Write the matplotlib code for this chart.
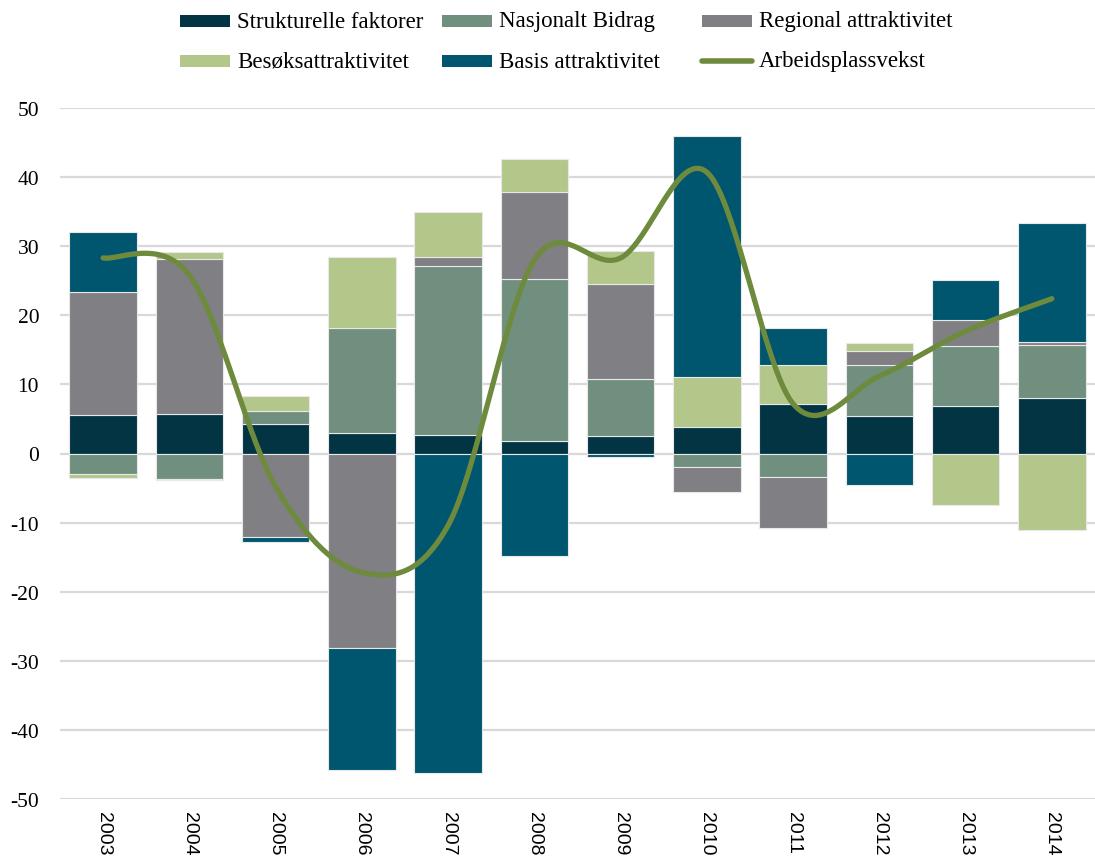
import matplotlib
matplotlib.use('Agg')
import matplotlib.pyplot as plt
import numpy as np
from matplotlib.patches import Rectangle
from matplotlib.lines import Line2D

plt.rcParams['font.family'] = 'Liberation Serif'
plt.rcParams['axes.unicode_minus'] = False

# ── data ──
years = ['2003', '2004', '2005', '2006', '2007', '2008',
         '2009', '2010', '2011', '2012', '2013', '2014']
strukturelle = [5.6, 5.7, 4.2, 2.9, 2.7, 1.8, 2.6, 3.9, 7.1, 5.4, 6.9, 8.0]
nasjonalt = [-3.0, -3.7, 1.9, 15.2, 24.4, 23.5, 8.2, -2.0, -3.4, 7.4, 8.7, 7.7]
regional = [17.7, 22.4, -12.1, -28.2, 1.4, 12.5, 13.7, -3.5, -7.4, 2.1, 3.7, 0.4]
besok = [-0.5, 1.1, 2.2, 10.4, 6.5, 4.8, 4.8, 7.1, 5.7, 1.1, -7.4, -11.0]
basis = [8.7, -0.2, -0.7, -17.6, -46.2, -14.9, -0.5, 34.9, 5.4, -4.6, 5.8, 17.3]
vekst = [28.3, 25.8, -4.8, -17.2, -10.4, 28.0, 28.3, 40.7, 7.2, 11.2, 17.7, 22.4]

series = [
    ('Strukturelle faktorer', strukturelle, '#023444'),
    ('Nasjonalt Bidrag', nasjonalt, '#718F7F'),
    ('Regional attraktivitet', regional, '#807F84'),
    ('Besøksattraktivitet', besok, '#B3C78B'),
    ('Basis attraktivitet', basis, '#00566F'),
]
LINE_COLOR = '#6E8B3D'
GRID = '#D9D9D9'
W, H = 1095, 862

fig = plt.figure(figsize=(W / 100, H / 100), dpi=100)
ax = fig.add_axes([60 / W, 62 / H, 1035 / W, 691 / H])

x = np.arange(len(years))
pos_bottom = np.zeros(len(years))
neg_bottom = np.zeros(len(years))
for label, vals, color in series:
    v = np.array(vals)
    bottom = np.where(v >= 0, pos_bottom, neg_bottom)
    ax.bar(x, v, bottom=bottom, width=0.78, color=color,
           edgecolor='#E8E8E8', linewidth=0.8, zorder=2)
    pos_bottom += np.where(v >= 0, v, 0)
    neg_bottom += np.where(v < 0, v, 0)

# smoothed line (Excel style catmull-rom bezier)
y = np.array(vekst)
xs_all, ys_all = [], []
n = len(y)
for i in range(n - 1):
    p0 = np.array([x[max(i - 1, 0)], y[max(i - 1, 0)]], dtype=float)
    p1 = np.array([x[i], y[i]], dtype=float)
    p2 = np.array([x[i + 1], y[i + 1]], dtype=float)
    p3 = np.array([x[min(i + 2, n - 1)], y[min(i + 2, n - 1)]], dtype=float)
    c1 = p1 + (p2 - p0) / 6
    c2 = p2 - (p3 - p1) / 6
    t = np.linspace(0, 1, 40)[:, None]
    pts = ((1 - t) ** 3) * p1 + 3 * ((1 - t) ** 2) * t * c1 + 3 * (1 - t) * t ** 2 * c2 + t ** 3 * p2
    xs_all.append(pts[:, 0])
    ys_all.append(pts[:, 1])
ax.plot(np.concatenate(xs_all), np.concatenate(ys_all), color=LINE_COLOR,
        lw=3.8, solid_capstyle='round', zorder=3)

ax.set_xlim(-0.5, len(years) - 0.5)
ax.set_ylim(-50, 50)
ax.set_yticks(np.arange(-50, 51, 10))
ax.yaxis.grid(True, color=GRID, lw=1.6, zorder=0)
ax.set_axisbelow(True)
for s in ax.spines.values():
    s.set_visible(False)
ax.tick_params(axis='both', length=0, labelsize=15.5)
ax.tick_params(axis='y', pad=15)
ax.set_xticks(x)
ax.set_xticklabels(years, rotation=270, fontsize=14,
                   family='Liberation Sans', va='top', ha='center')
ax.tick_params(axis='x', pad=9)

# ── legend, drawn by hand (Excel-style fixed columns) ──
col_x = [180, 442, 702]
row_y = [22, 62]
items = [(series[0][0], series[0][2], 0, 0), (series[1][0], series[1][2], 1, 0),
         (series[2][0], series[2][2], 2, 0), (series[3][0], series[3][2], 0, 1),
         (series[4][0], series[4][2], 1, 1), ('Arbeidsplassvekst', LINE_COLOR, 2, 1)]
for label, color, c, r in items:
    hx, hy = col_x[c], row_y[r]
    if label == 'Arbeidsplassvekst':
        fig.add_artist(Line2D([hx / W, (hx + 50) / W], [1 - hy / H, 1 - hy / H],
                              color=color, lw=4, solid_capstyle='round'))
    else:
        fig.add_artist(Rectangle((hx / W, 1 - (hy + 6) / H), 50 / W, 12 / H,
                                 facecolor=color, edgecolor='none'))
    fig.text((hx + 57) / W, 1 - hy / H, label, fontsize=16.5,
             ha='left', va='center')

fig.savefig('out.png', dpi=100)
